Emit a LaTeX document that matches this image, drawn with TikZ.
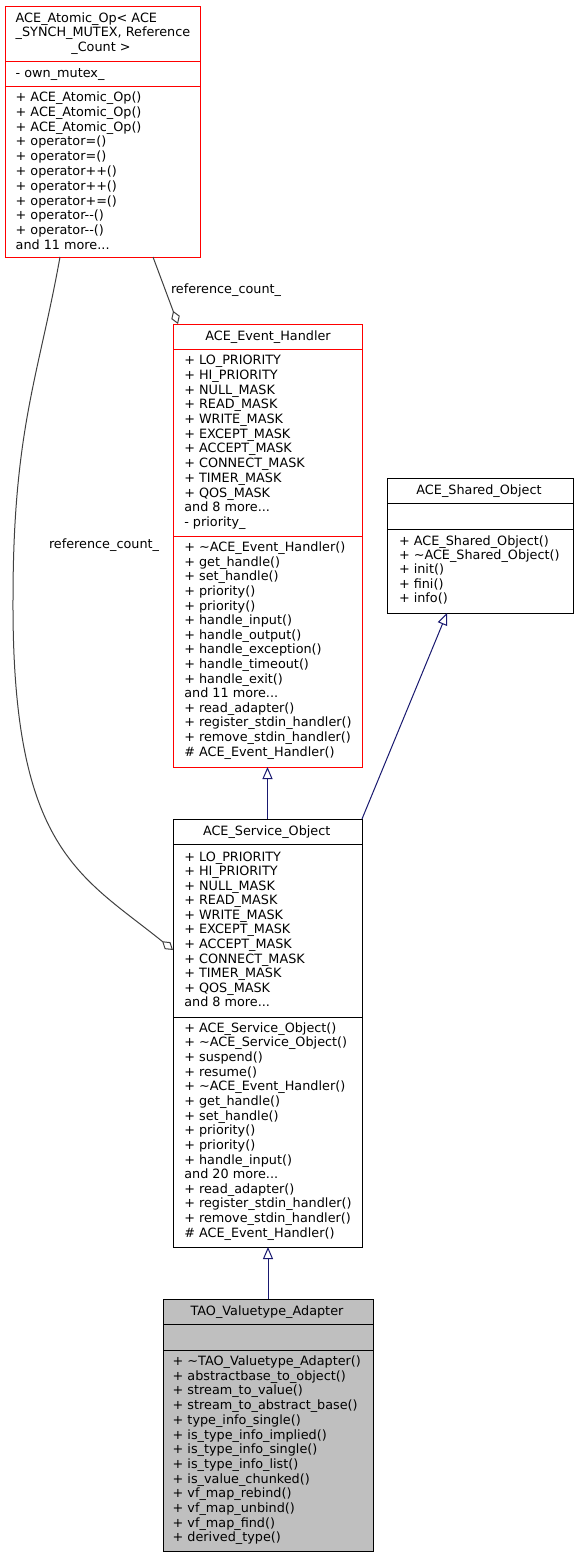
\documentclass[tikz,border=0pt]{standalone}
\usepackage{fontspec}
\newfontfamily\dv{DejaVu Sans}
\usetikzlibrary{arrows.meta,calc}
\definecolor{edgeblue}{HTML}{191970}
\definecolor{edgegrey}{HTML}{404040}
\definecolor{boxred}{HTML}{FF0000}
\definecolor{tgray}{HTML}{BFBFBF}
\newcommand{\mdots}{...}
\newcommand{\txtlines}[5]{%
  \foreach \linetxt [count=\i] in {#5} {
    \node[txt] (#1-\i) at ({#2},{#3+(\i-1)*#4}) {\linetxt};
  }%
}
\begin{document}
\begin{tikzpicture}[x=0.75pt,y=-0.75pt,
  txt/.style={inner sep=0pt, outer sep=0pt, font=\dv\fontsize{9.6}{11}\selectfont, anchor=base west},
  ttl/.style={txt, anchor=base},
  box/.style={draw, line width=0.75pt, inner sep=0pt, outer sep=0pt, anchor=north west},
  inh/.style={draw=edgeblue, line width=0.75pt, -{Triangle[open, length=9pt, width=7.5pt]}},
  agg/.style={draw=edgegrey, line width=0.75pt, -{Diamond[open, length=10.5pt, width=6.75pt]}}
]
\fill[white] (0,0) rectangle (577,1557);
\useasboundingbox (0,0) rectangle (577,1557);

% ---------- ACE_Atomic_Op ----------
\node[box, draw=boxred, minimum width={195*0.75pt}, minimum height={251*0.75pt}] (atomic) at (5,6) {};
\draw[boxred, line width=0.75pt] ($(atomic.north west)+(0,55)$) -- ($(atomic.north east)+(0,55)$);
\draw[boxred, line width=0.75pt] ($(atomic.north west)+(0,80)$) -- ($(atomic.north east)+(0,80)$);
\node[txt] (atomic-t1) at (15.7,22) {ACE\_Atomic\_Op< ACE};
\node[txt] (atomic-t2) at (15.7,36.7) {\_SYNCH\_MUTEX, Reference};
\node[ttl] (atomic-t3) at (101,51.3) {\_Count >};
\node[txt] (atomic-a1) at (15.7,77.3) {- own\_mutex\_};
\txtlines{atomic-m}{15.7}{101.7}{14.76}{+ ACE\_Atomic\_Op(), + ACE\_Atomic\_Op(), + ACE\_Atomic\_Op(), + operator=(), + operator=(), + operator++(), + operator++(), + operator+=(), + operator-{}-(), + operator-{}-(), and 11 more\mdots}

% ---------- ACE_Event_Handler ----------
\node[box, draw=boxred, minimum width={189*0.75pt}, minimum height={443*0.75pt}] (eh) at (173,324) {};
\draw[boxred, line width=0.75pt] ($(eh.north west)+(0,25)$) -- ($(eh.north east)+(0,25)$);
\draw[boxred, line width=0.75pt] ($(eh.north west)+(0,212)$) -- ($(eh.north east)+(0,212)$);
\node[ttl] (eh-t) at (268,340) {ACE\_Event\_Handler};
\txtlines{eh-a}{184.3}{364.7}{14.7}{+ LO\_PRIORITY, + HI\_PRIORITY, + NULL\_MASK, + READ\_MASK, + WRITE\_MASK, + EXCEPT\_MASK, + ACCEPT\_MASK, + CONNECT\_MASK, + TIMER\_MASK, + QOS\_MASK, and 8 more\mdots, - priority\_}
\txtlines{eh-m}{184.3}{551.7}{14.6}{+ \textasciitilde ACE\_Event\_Handler(), + get\_handle(), + set\_handle(), + priority(), + priority(), + handle\_input(), + handle\_output(), + handle\_exception(), + handle\_timeout(), + handle\_exit(), and 11 more\mdots, + read\_adapter(), + register\_stdin\_handler(), + remove\_stdin\_handler(), \# ACE\_Event\_Handler()}

% ---------- ACE_Shared_Object ----------
\node[box, draw=black, minimum width={186*0.75pt}, minimum height={135*0.75pt}] (so) at (387,478) {};
\draw[black, line width=0.75pt] ($(so.north west)+(0,25)$) -- ($(so.north east)+(0,25)$);
\draw[black, line width=0.75pt] ($(so.north west)+(0,51)$) -- ($(so.north east)+(0,51)$);
\node[ttl] (so-t) at (479,494) {ACE\_Shared\_Object};
\txtlines{so-m}{399}{545}{14.4}{+ ACE\_Shared\_Object(), + \textasciitilde ACE\_Shared\_Object(), + init(), + fini(), + info()}

% ---------- ACE_Service_Object ----------
\node[box, draw=black, minimum width={189*0.75pt}, minimum height={428*0.75pt}] (svc) at (173,819) {};
\draw[black, line width=0.75pt] ($(svc.north west)+(0,25)$) -- ($(svc.north east)+(0,25)$);
\draw[black, line width=0.75pt] ($(svc.north west)+(0,198)$) -- ($(svc.north east)+(0,198)$);
\node[ttl] (svc-t) at (266.7,835) {ACE\_Service\_Object};
\txtlines{svc-a}{184.3}{861}{14.57}{+ LO\_PRIORITY, + HI\_PRIORITY, + NULL\_MASK, + READ\_MASK, + WRITE\_MASK, + EXCEPT\_MASK, + ACCEPT\_MASK, + CONNECT\_MASK, + TIMER\_MASK, + QOS\_MASK, and 8 more\mdots}
\txtlines{svc-m}{184.3}{1032.3}{14.64}{+ ACE\_Service\_Object(), + \textasciitilde ACE\_Service\_Object(), + suspend(), + resume(), + \textasciitilde ACE\_Event\_Handler(), + get\_handle(), + set\_handle(), + priority(), + priority(), + handle\_input(), and 20 more\mdots, + read\_adapter(), + register\_stdin\_handler(), + remove\_stdin\_handler(), \# ACE\_Event\_Handler()}

% ---------- TAO_Valuetype_Adapter ----------
\node[box, draw=black, fill=tgray, minimum width={210*0.75pt}, minimum height={252*0.75pt}] (tao) at (163,1299) {};
\draw[black, line width=0.75pt] ($(tao.north west)+(0,25)$) -- ($(tao.north east)+(0,25)$);
\draw[black, line width=0.75pt] ($(tao.north west)+(0,51)$) -- ($(tao.north east)+(0,51)$);
\node[ttl] (tao-t) at (267,1315) {TAO\_Valuetype\_Adapter};
\txtlines{tao-m}{172.7}{1365.5}{14.7}{+ \textasciitilde TAO\_Valuetype\_Adapter(), + abstractbase\_to\_object(), + stream\_to\_value(), + stream\_to\_abstract\_base(), + type\_info\_single(), + is\_type\_info\_implied(), + is\_type\_info\_single(), + is\_type\_info\_list(), + is\_value\_chunked(), + vf\_map\_rebind(), + vf\_map\_unbind(), + vf\_map\_find(), + derived\_type()}

% ---------- connectors ----------
\draw[inh] (svc.north) -- (svc.north |- eh.south);
\draw[inh] (svc.north east) -- ($(so.south west)+(60,0)$);
\draw[inh] (tao.north) -- (tao.north |- svc.south);

\draw[agg] ($(atomic.south west)+(148,0)$) -- ($(eh.north west)+(5,0)$);
\node[txt] (lbl1) at (171,293.5) {reference\_count\_};

\coordinate (bend) at (13,600);
\draw[agg] ($(atomic.south west)+(55,0)$) .. controls (38.4,377) and (13,430) .. (bend)
  .. controls (12,850) and (80,875) .. ($(svc.north west)+(0,131)$);
\node[txt] (lbl2) at (49,548.5) {reference\_count\_};
\end{tikzpicture}
\end{document}
